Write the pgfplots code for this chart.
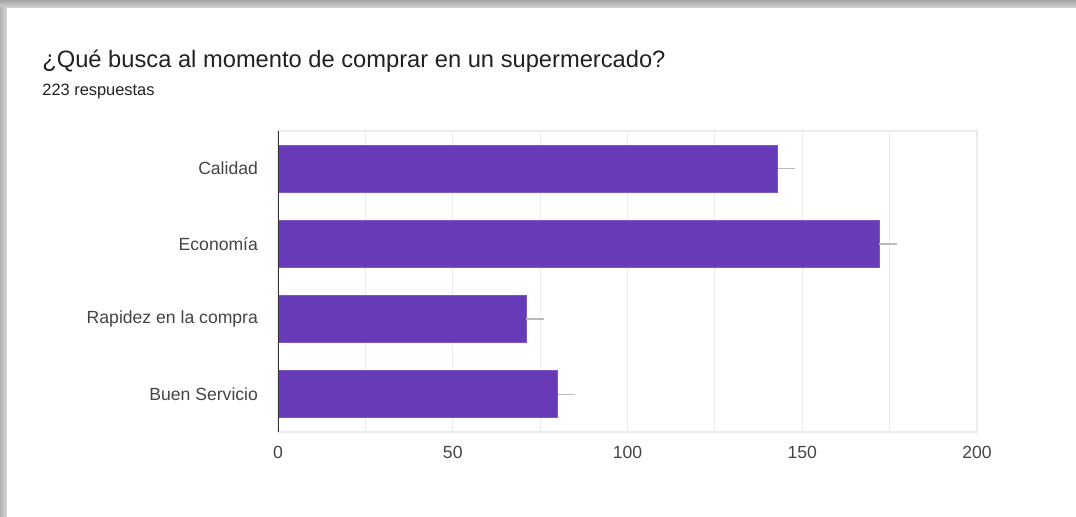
\documentclass[border=0pt]{standalone}
\usepackage{pgfplots}
\pgfplotsset{compat=1.18}
\usepackage{fontspec}
\setmainfont{Liberation Sans}
\definecolor{barpurple}{HTML}{673AB7}
\definecolor{gridgray}{HTML}{EBEBEB}
\definecolor{titlecol}{HTML}{202124}
\definecolor{labcol}{HTML}{444444}
\begin{document}
\begin{tikzpicture}
\path[use as bounding box] (0,0) rectangle (538pt,258.5pt);
\shade[top color=gray!70, bottom color=gray!35] (0,254.5pt) rectangle (538pt,258.5pt);
\shade[left color=gray!60, right color=gray!30] (0,0) rectangle (3.5pt,254.5pt);
\fill[white] (3.5pt,0) rectangle (538pt,254.5pt);
\node[anchor=base west, font=\fontsize{11.85}{14}\selectfont, text=titlecol, inner sep=0] at (21pt,224.5pt) {¿Qué busca al momento de comprar en un supermercado?};
\node[anchor=base west, font=\fontsize{8.2}{10}\selectfont, text=titlecol, inner sep=0] at (21pt,210.5pt) {223 respuestas};
\begin{axis}[
  at={(139pt,42.5pt)}, anchor=south west,
  scale only axis, width=349.5pt, height=150.5pt,
  xmin=0, xmax=200, ymin=-0.5, ymax=3.5,
  y dir=reverse,
  xbar, bar width=23.5pt,
  xtick={0,50,100,150,200},
  minor x tick num=1,
  ytick={0,1,2,3},
  yticklabels={Calidad,Economía,Rapidez en la compra,Buen Servicio},
  major tick length=0pt, minor tick length=0pt,
  xmajorgrids, xminorgrids,
  major grid style={gridgray, line width=0.6pt},
  minor grid style={gridgray, line width=0.6pt},
  axis line style={draw=gridgray, line width=0.6pt},
  tick label style={font=\fontsize{8.8}{10}\selectfont, text=labcol},
  xticklabel style={yshift=-3.5pt},
  yticklabel style={xshift=-6.5pt},
  /pgf/number format/assume math mode=true,
]
\addplot[fill=barpurple, draw=barpurple!85!white, line width=0.4pt,
  error bars/.cd, x dir=plus, x explicit, error mark=none,
  error bar style={draw=gray!55, line width=0.8pt}]
  table[x=v, y=c, x error=e] {
c v e
0 143 5
1 172 5
2 71 5
3 80 5
};
\draw[black!80, line width=0.8pt] (rel axis cs:0,0) -- (rel axis cs:0,1);
\end{axis}
\end{tikzpicture}
\end{document}
